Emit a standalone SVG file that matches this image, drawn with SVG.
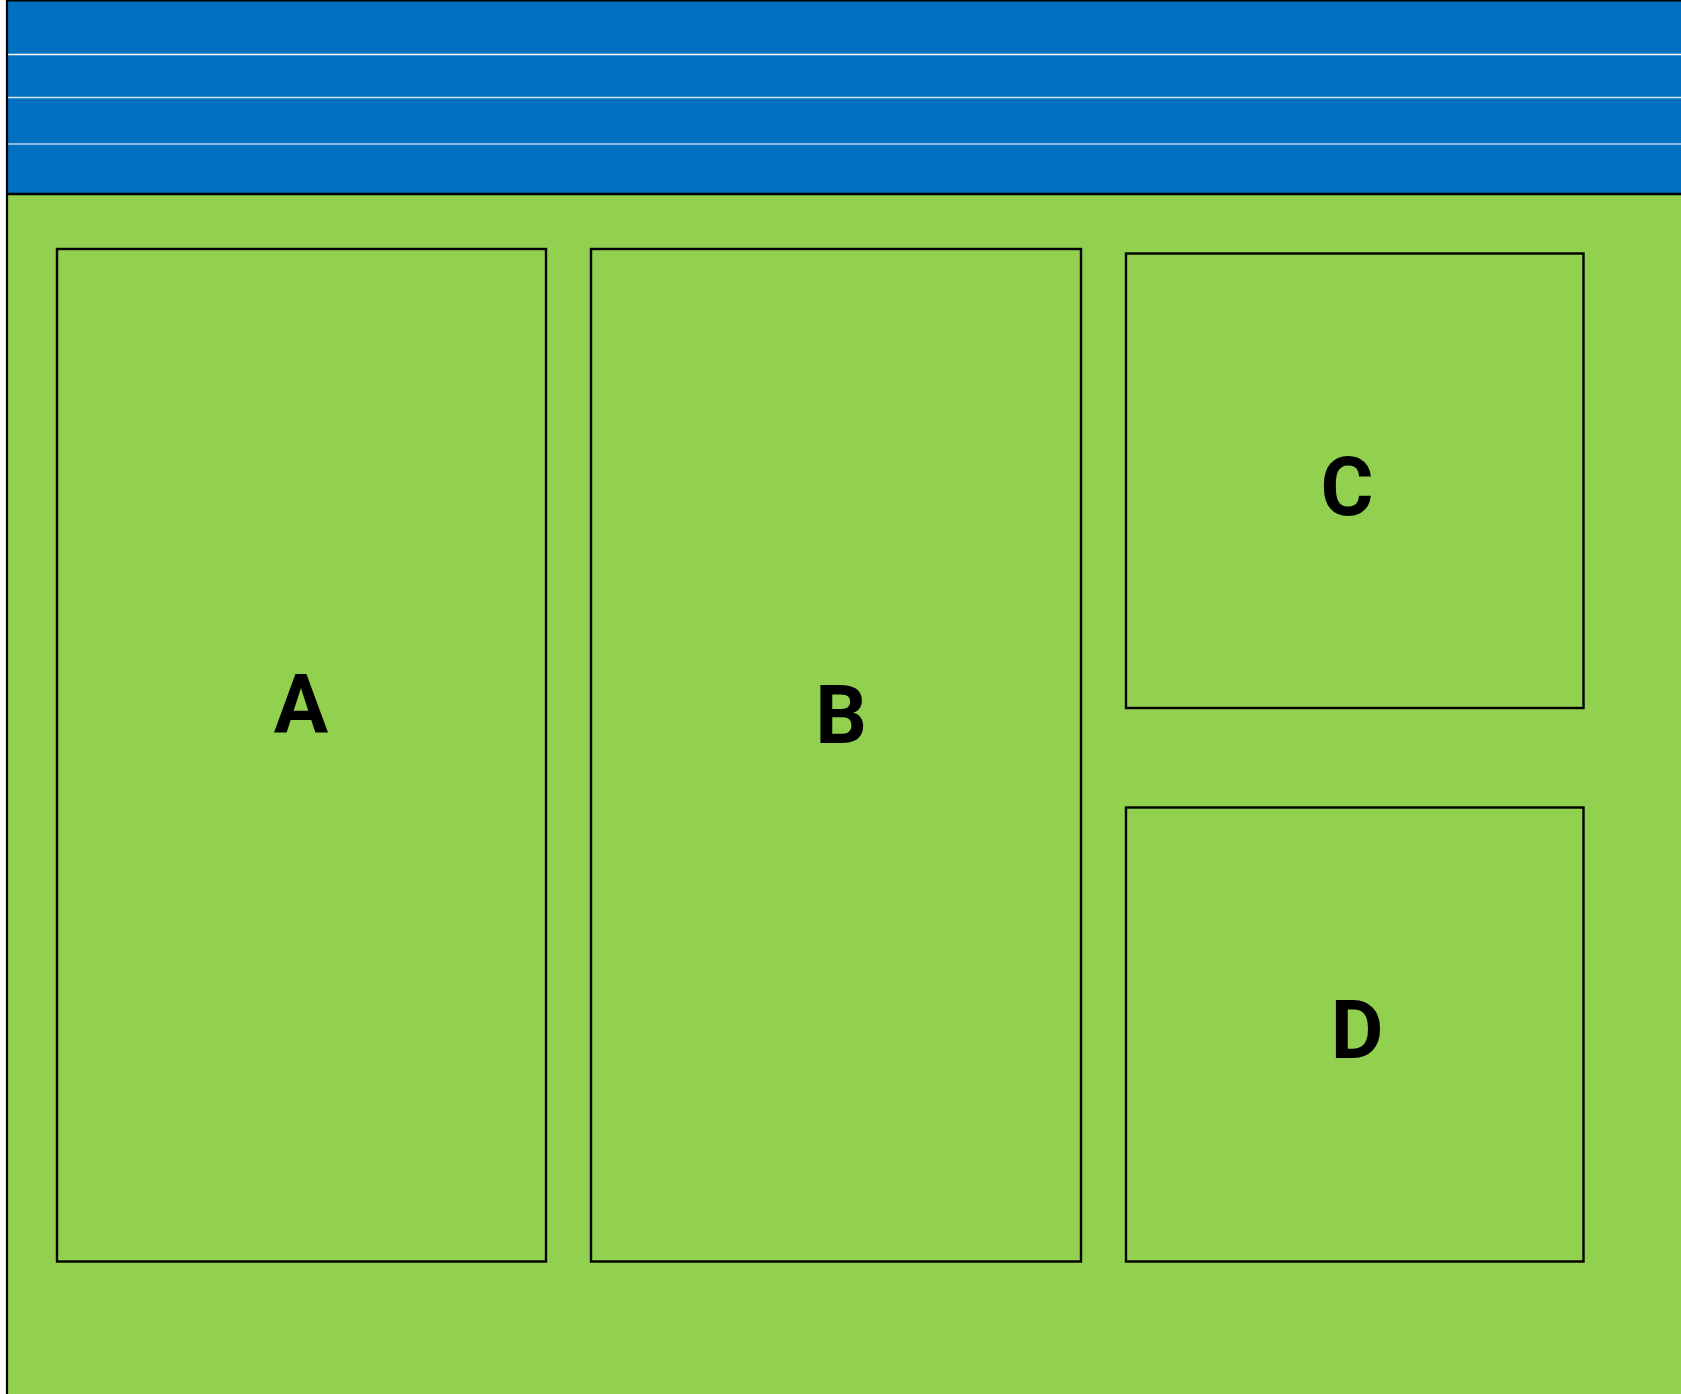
<svg xmlns="http://www.w3.org/2000/svg" width="1681" height="1394" viewBox="0 0 1681 1394">
  <style>
    .box { fill: #92D050; stroke: #000; stroke-width: 2.4; }
    .lbl { font-family: Roboto, "Liberation Sans", sans-serif; font-weight: bold; font-size: 81px; fill: #000; text-anchor: middle; }
    .sep { stroke-width: 1.5; }
  </style>
  <rect x="0" y="0" width="1681" height="1394" fill="#fff"/>
  <g id="background">
    <rect x="7" y="0" width="1674" height="195" fill="#0070C0"/>
    <rect x="7" y="195" width="1674" height="1199" fill="#92D050"/>
    <line x1="5" y1="54.5" x2="1681" y2="54.5" stroke="#ffffff" class="sep"/>
    <line x1="5" y1="97.5" x2="1681" y2="97.5" stroke="#D6E6F4" class="sep"/>
    <line x1="5" y1="144" x2="1681" y2="144" stroke="#BFD6EC" class="sep"/>
    <line x1="6" y1="194" x2="1681" y2="194" stroke="#000" stroke-width="2.5"/>
    <line x1="6" y1="0.7" x2="1681" y2="0.7" stroke="#000" stroke-width="1.5"/>
    <line x1="7" y1="0" x2="7" y2="1394" stroke="#000" stroke-width="2.2"/>
  </g>
  <g id="node-A">
    <rect class="box" x="57" y="249" width="489" height="1012.5"/>
    <text class="lbl" x="301" y="732">A</text>
  </g>
  <g id="node-B">
    <rect class="box" x="591" y="249" width="490" height="1012.5"/>
    <text class="lbl" x="841" y="743">B</text>
  </g>
  <g id="node-C">
    <rect class="box" x="1126" y="253.5" width="457.5" height="454.5"/>
    <text class="lbl" x="1347" y="515">C</text>
  </g>
  <g id="node-D">
    <rect class="box" x="1126" y="807.5" width="457.5" height="454"/>
    <text class="lbl" x="1357" y="1058">D</text>
  </g>
  <g id="connectors"/>
</svg>
